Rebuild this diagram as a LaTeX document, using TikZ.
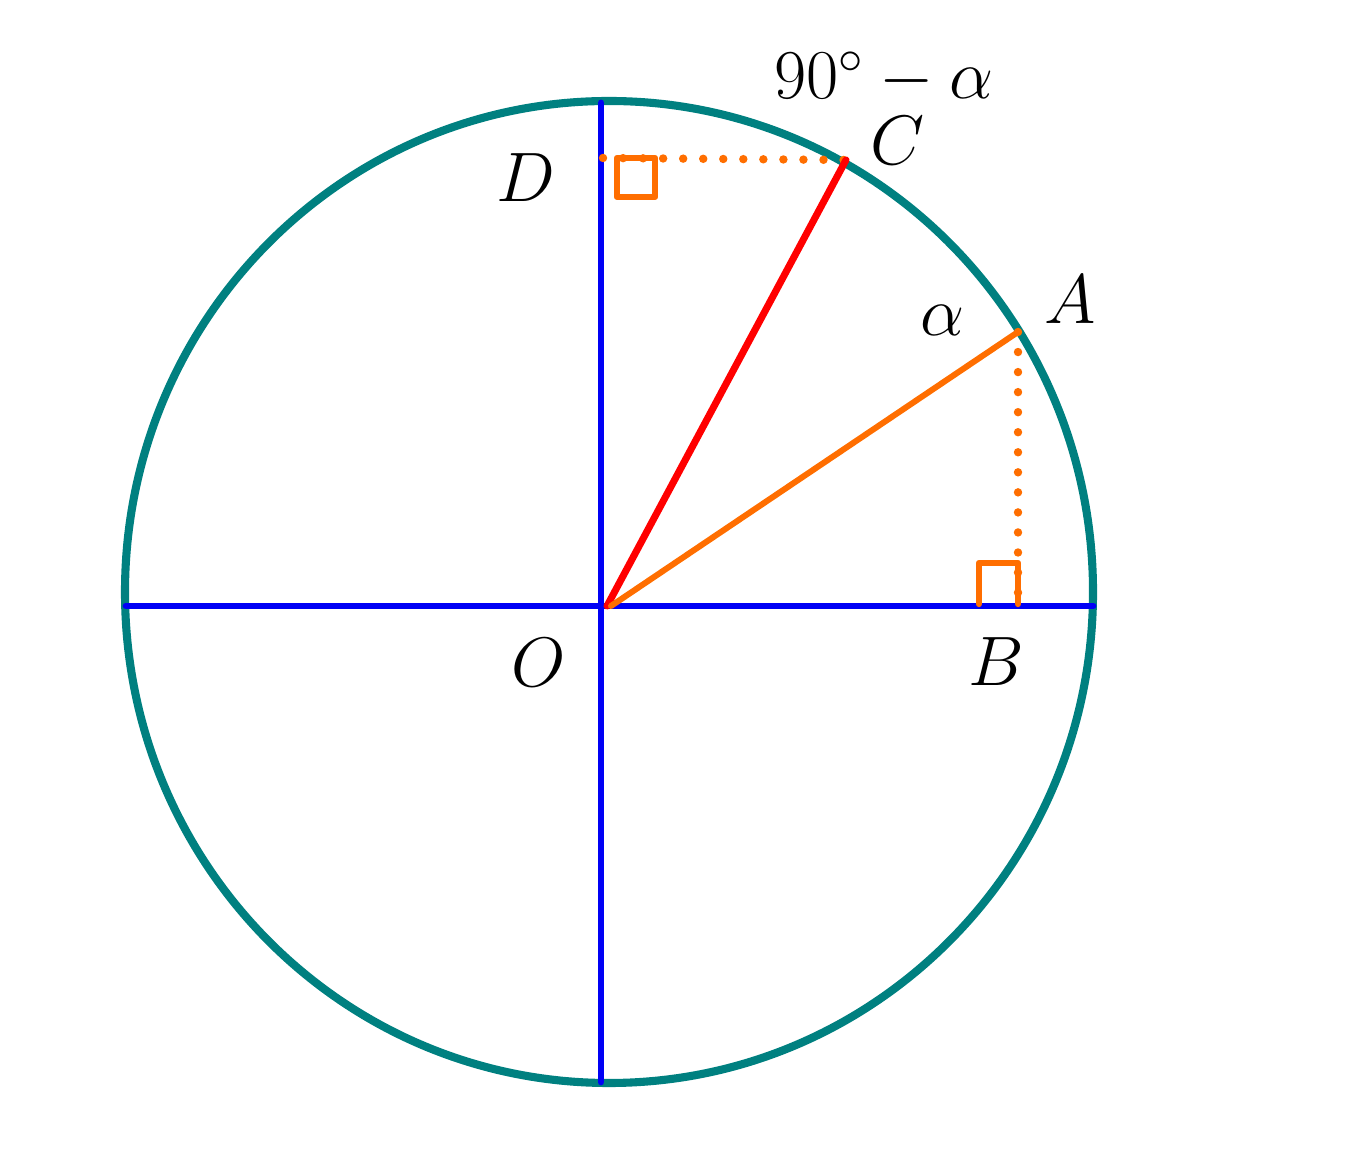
\documentclass[tikz,border=0pt]{standalone}
\usepackage{graphicx}
\usepackage{amsmath}
\definecolor{circteal}{RGB}{0,128,128}
\definecolor{axblue}{RGB}{0,0,245}
\definecolor{segred}{RGB}{255,0,0}
\definecolor{segorange}{RGB}{255,110,0}
\newcommand{\lbltxt}[1]{\scalebox{0.96}{#1}}
\tikzset{
  axis line/.style={axblue, line width=1.95pt, line cap=round},
  circ line/.style={circteal, line width=2.3pt},
  red seg/.style={segred, line width=2pt, line cap=round},
  orange seg/.style={segorange, line width=1.7pt, line cap=round},
  dot line/.style={segorange, line width=2.4pt, line cap=round, dash pattern=on 0pt off 5.7pt},
  rt box/.style={segorange, line width=1.8pt, line join=round, line cap=round},
  lab/.style={font=\fontsize{20}{24}\selectfont, inner sep=0pt}
}
\begin{document}
\begin{tikzpicture}[x=0.01cm, y=-0.01cm]
\useasboundingbox (0,0) rectangle (1346,1168);
% circle
\draw[circ line] (609,592) ellipse [x radius=484, y radius=491];
% points
\coordinate (O) at (607,606);
\coordinate (O2) at (611,606);
\coordinate (A) at (1018,332);
\coordinate (B) at (1018,604);
\coordinate (C) at (846,160);
\coordinate (D) at (603,158);
\coordinate (L) at (126,606);
\coordinate (R) at (1093,606);
\coordinate (T) at (601,103);
\coordinate (Bt) at (601,1082);
% axes
\draw[axis line] (L) -- (R);
\draw[axis line] (T) -- (Bt);
% dotted projections
\draw[dot line] (A) -- (B);
\draw[dot line] (D) -- (C);
% right-angle boxes
\draw[rt box] (979,604) -- (979,563) -- (1018,563) -- (1018,604);
\draw[rt box] (617,158) rectangle (655,197);
% radii
\draw[red seg] (O) -- (C);
\draw[orange seg] (O2) -- (A);
% labels
\node[lab] (lC) at (898,141) {\lbltxt{$C$}};
\node[lab] (lD) at (526,178) {\lbltxt{$D$}};
\node[lab] (lA) at (1070,300) {\lbltxt{$A$}};
\node[lab] (lal) at (943,320) {\lbltxt{$\alpha$}};
\node[lab] (lO) at (539,663) {\lbltxt{$O$}};
\node[lab] (lB) at (996,662) {\lbltxt{$B$}};
\node[lab] (lang) at (884,78) {\lbltxt{$90^\circ-\alpha$}};
\end{tikzpicture}
\end{document}
